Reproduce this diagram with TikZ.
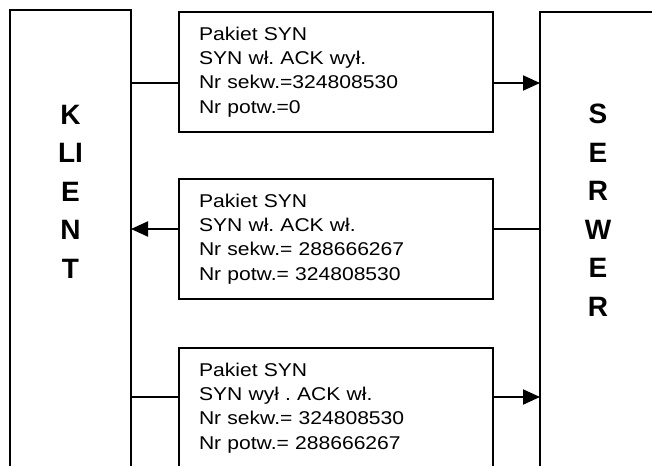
\documentclass[tikz,border=0pt]{standalone}
\usepackage{fontspec}
\setmainfont{Liberation Sans}
\newfontfamily\pktfont[FakeStretch=1.14]{Liberation Sans}
\usetikzlibrary{arrows.meta}
\tikzset{
  side/.style={draw, line width=2pt, minimum width=121pt, minimum height=480pt,
    anchor=north west, inner sep=0pt, outer sep=0pt},
  pkt/.style={draw, line width=2pt, minimum width=314pt, minimum height=120pt,
    anchor=north west, text width=274pt, inner xsep=20pt, inner ysep=0pt,
    outer sep=0pt, align=left, font=\pktfont\fontsize{18.5pt}{24.3pt}\selectfont\frenchspacing},
  bigletters/.style={font=\bfseries\fontsize{28pt}{38.5pt}\selectfont,
    align=center, inner sep=0pt, anchor=north},
  conn/.style={line width=2pt},
  arr/.style={conn, -{Triangle[length=17pt,width=15pt]}}
}
\begin{document}
\begin{tikzpicture}[x=1pt,y=-1pt]
\useasboundingbox (0,0) rectangle (652,465);
\clip (0,0) rectangle (652,465);
\fill[white] (0,0) rectangle (652,465);

\node[side] (client) at (10,10) {};
\node[side, minimum width=200pt] (server) at (540,12) {};

\node[bigletters] (klient) at (70.5,105) {K\\LI\\E\\N\\T};
\node[bigletters] (serwer) at (598,104) {S\\E\\R\\W\\E\\R};

\node[pkt] (b1) at (179,12) {Pakiet SYN\\SYN wł. ACK wył.\\Nr sekw.=324808530\\Nr potw.=0};
\node[pkt] (b2) at (179,179) {Pakiet SYN\\SYN wł. ACK wł.\\Nr sekw.= 288666267\\Nr potw.= 324808530};
\node[pkt] (b3) at (179,348) {Pakiet SYN\\SYN wył . ACK wł.\\Nr sekw.= 324808530\\Nr potw.= 288666267};

\path (b1.north west) ++(0,71) coordinate (b1w);
\path (b1.north east) ++(0,71) coordinate (b1e);
\path (b2.north west) ++(0,50) coordinate (b2w);
\path (b2.north east) ++(0,50) coordinate (b2e);
\path (b3.north west) ++(0,49) coordinate (b3w);
\path (b3.north east) ++(0,49) coordinate (b3e);

\draw[conn] (b1w -| client.east) -- (b1w);
\draw[arr] (b1e) -- (b1e -| server.west);
\draw[conn] (b2e -| server.west) -- (b2e);
\draw[arr] (b2w) -- (b2w -| client.east);
\draw[conn] (b3w -| client.east) -- (b3w);
\draw[arr] (b3e) -- (b3e -| server.west);
\end{tikzpicture}
\end{document}
